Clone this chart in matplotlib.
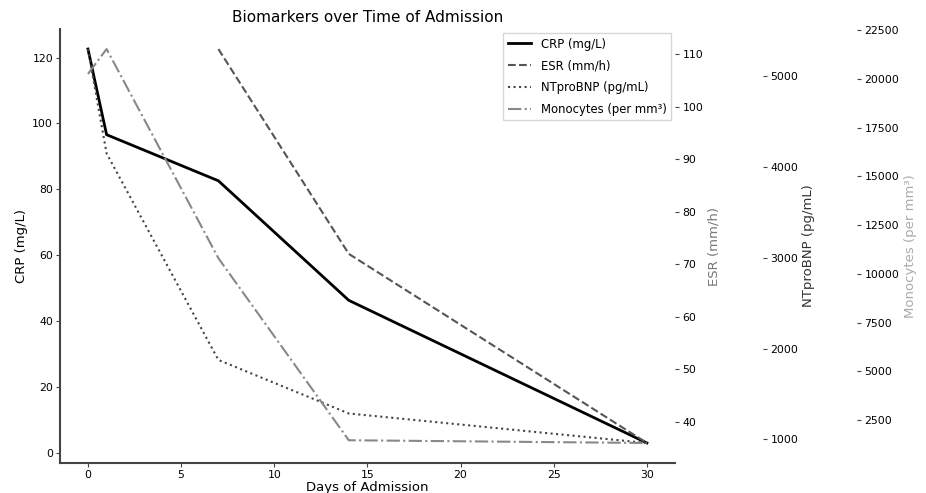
import matplotlib
matplotlib.use('Agg')
import matplotlib.pyplot as plt

days = [0, 1, 7, 14, 30]
crp = [122.6, 96.6, 82.6, 46.3, 3.0]
esr_days = [7, 14, 30]
esr = [111, 72, 36]
ntprobnp = [5300, 4150, 1875, 1285, 960]
monocytes = [20250, 21530, 10800, 1460, 1320]

plt.rcParams['font.family'] = 'DejaVu Sans'

fig = plt.figure(figsize=(9.26, 4.93), dpi=100)
ax1 = fig.add_axes([0.0648, 0.0615, 0.664, 0.879])

l1, = ax1.plot(days, crp, color='black', lw=2, label='CRP (mg/L)')
ax1.set_xlabel('Days of Admission', fontsize=9.5, labelpad=1)
ax1.set_ylabel('CRP (mg/L)', fontsize=9.5, labelpad=3)
ax1.set_title('Biomarkers over Time of Admission', fontsize=11, pad=5)
ax1.spines['top'].set_visible(False)
ax1.spines['right'].set_visible(False)
ax1.spines['left'].set_color('#444444')
ax1.spines['bottom'].set_color('#444444')
ax1.spines['left'].set_linewidth(1.5)
ax1.spines['bottom'].set_linewidth(1.5)
ax1.tick_params(labelsize=7.8, length=3, pad=2, color='#444444')
ax1.set_yticks([0, 20, 40, 60, 80, 100, 120])

ax2 = ax1.twinx()
l2, = ax2.plot(esr_days, esr, color='#555555', ls='--', lw=1.5, label='ESR (mm/h)')
ax2.set_ylabel('ESR (mm/h)', fontsize=9.5, color='#777777', labelpad=3)

ax3 = ax1.twinx()
ax3.spines['right'].set_position(('axes', 1.143))
l3, = ax3.plot(days, ntprobnp, color='#444444', ls=':', lw=1.5, label='NTproBNP (pg/mL)')
ax3.set_ylabel('NTproBNP (pg/mL)', fontsize=9.5, color='#333333', labelpad=3)
ax3.set_yticks([1000, 2000, 3000, 4000, 5000])

ax4 = ax1.twinx()
ax4.spines['right'].set_position(('axes', 1.296))
l4, = ax4.plot(days, monocytes, color='#888888', ls='-.', lw=1.5, label='Monocytes (per mm³)')
ax4.set_ylabel('Monocytes (per mm³)', fontsize=9.5, color='#aaaaaa', labelpad=3)
ax4.set_yticks([2500, 5000, 7500, 10000, 12500, 15000, 17500, 20000, 22500])

for a in (ax2, ax3, ax4):
    for s in a.spines.values():
        s.set_visible(False)
    a.tick_params(labelsize=7.8, length=3, pad=2.5, color='#444444')

ax1.legend(handles=[l1, l2, l3, l4], loc='upper right', fontsize=8.4,
           borderaxespad=0.3, labelspacing=0.75, fancybox=False,
           edgecolor='#cccccc')

fig.savefig('out.png', dpi=100)
